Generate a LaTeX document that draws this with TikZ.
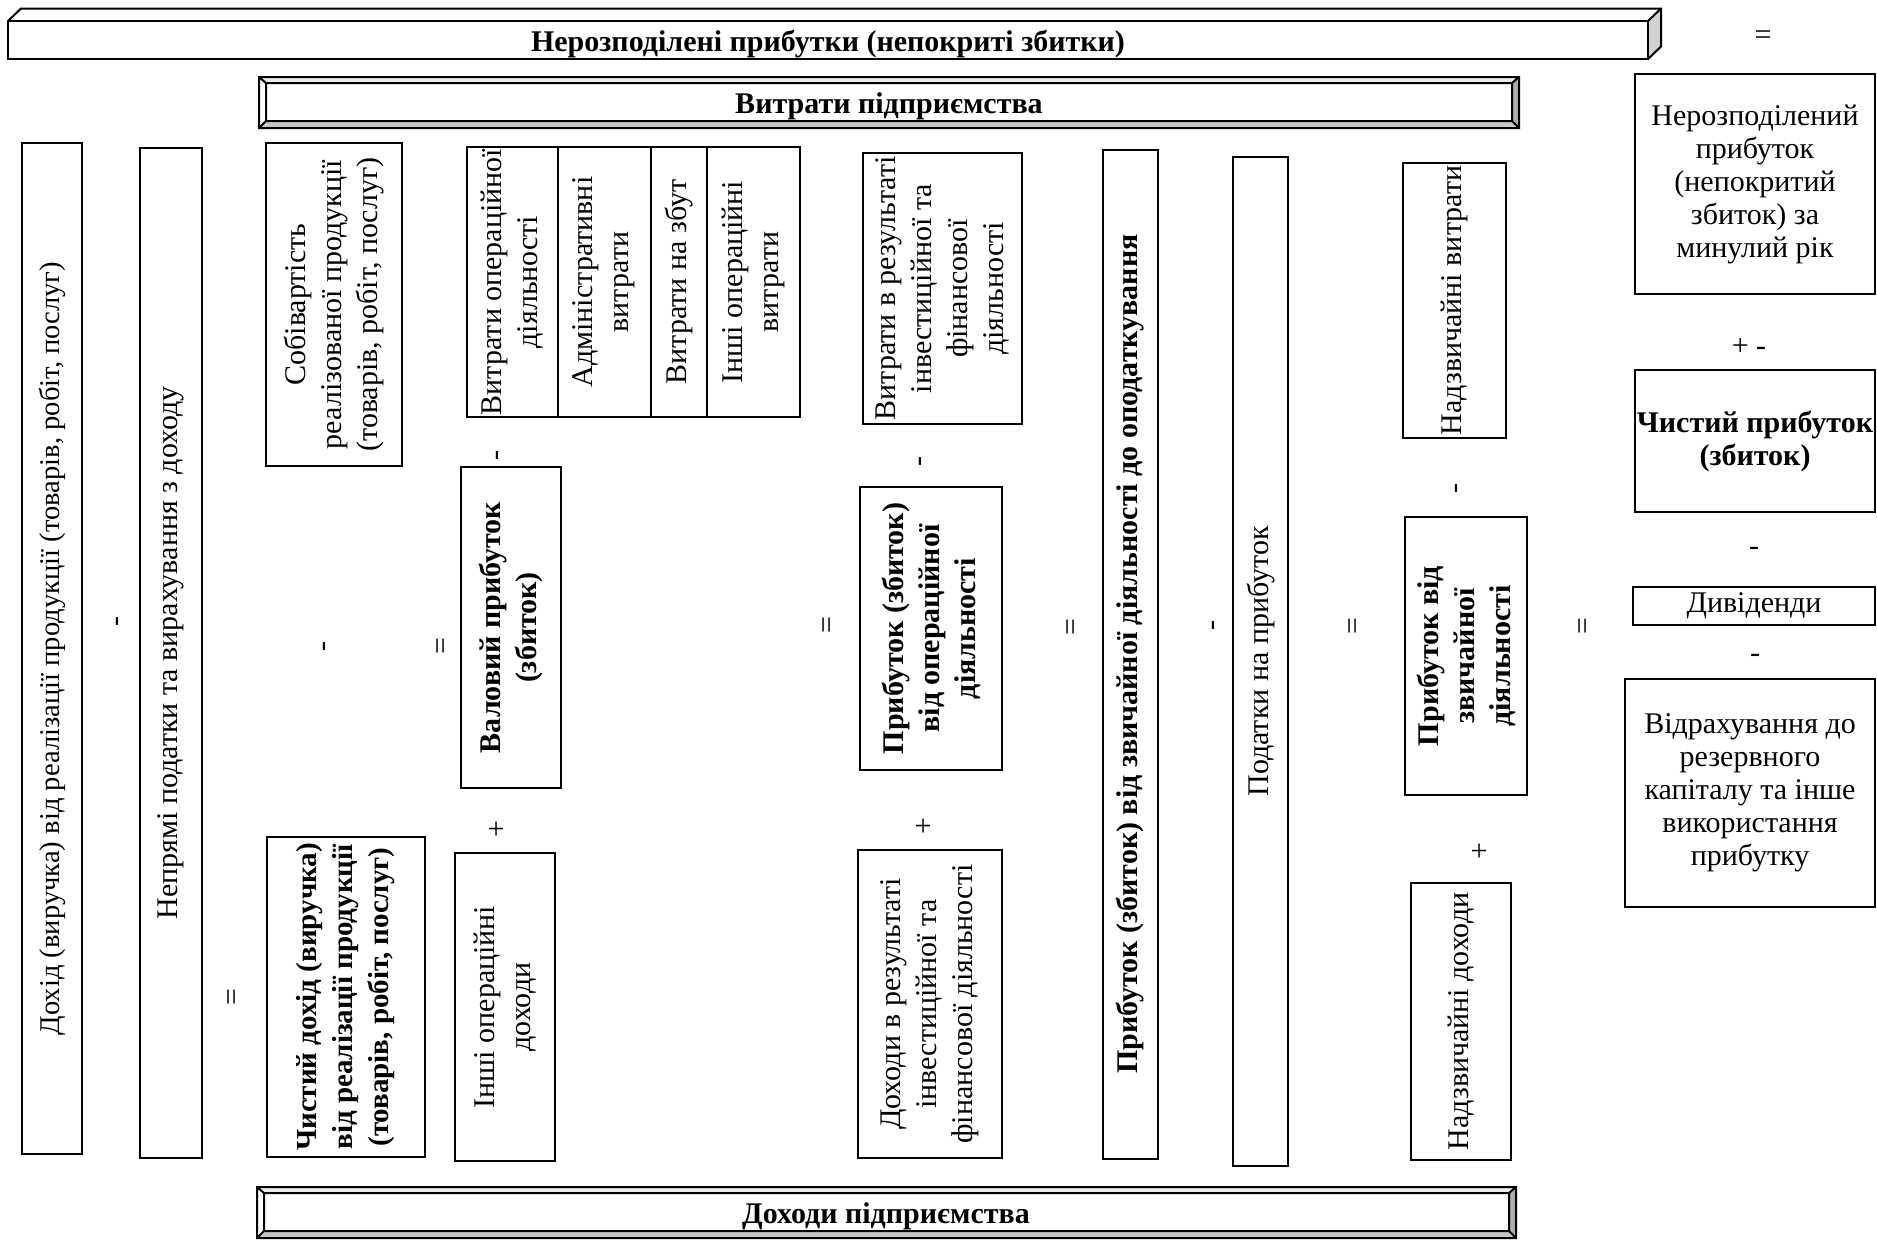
\documentclass[tikz,border=0pt]{standalone}
\usepackage{fontspec}
\setmainfont{Liberation Serif}

\begin{document}
\begin{tikzpicture}[x=0.5pt,y=-0.5pt,
  box/.style={draw, line width=1pt, inner sep=1pt, align=center,
    font=\fontsize{15}{16.5}\selectfont},
  rbox/.style={box, rotate=90, font=\fontsize{15}{18}\selectfont},
  sign/.style={inner sep=0pt, font=\fontsize{15}{18}\selectfont},
  rsign/.style={sign, rotate=90}]

\useasboundingbox (0,0) rectangle (1877,1239);

%---------------------------------------
% Banners
%---------------------------------------
% 3D bar on top
\fill[white] (8,21) -- (21,8.5) -- (1661,8.5) -- (1648,21) -- cycle;
\fill[gray!35] (1648,21) -- (1661,8.5) -- (1661,46.5) -- (1648,59) -- cycle;
\draw[line width=1pt] (8,21) -- (21,8.5) -- (1661,8.5) -- (1661,46.5) -- (1648,59)
  (1648,21) -- (1661,8.5);
\draw[line width=1pt] (8,21) rectangle (1648,59);
\node[sign, font=\fontsize{15}{18}\selectfont\bfseries] (retained) at (828,44)
  {Нерозподілені прибутки (непокриті збитки)};

% bevelled frames (top: costs, bottom: income)
\foreach \xa/\ya/\xb/\yb in {259/77/1519/128, 257/1187/1516/1238}{
  \fill[gray!15] (\xa,\ya) -- (\xb,\ya) -- (\xb-7,\ya+6) -- (\xa+7,\ya+6) -- cycle;
  \fill[white] (\xa,\ya) -- (\xa+7,\ya+6) -- (\xa+7,\yb-7) -- (\xa,\yb) -- cycle;
  \fill[gray!45] (\xa,\yb) -- (\xa+7,\yb-7) -- (\xb-7,\yb-7) -- (\xb,\yb) -- cycle;
  \fill[gray!65] (\xb,\ya) -- (\xb-7,\ya+6) -- (\xb-7,\yb-7) -- (\xb,\yb) -- cycle;
  \draw[line width=1pt] (\xa,\ya) rectangle (\xb,\yb)
    (\xa+7,\ya+6) rectangle (\xb-7,\yb-7)
    (\xa,\ya) -- (\xa+7,\ya+6) (\xb,\ya) -- (\xb-7,\ya+6)
    (\xa,\yb) -- (\xa+7,\yb-7) (\xb,\yb) -- (\xb-7,\yb-7);
}
\node[sign, font=\fontsize{15}{18}\selectfont\bfseries] (costs) at (889,106)
  {Витрати підприємства};
\node[sign, font=\fontsize{15}{18}\selectfont\bfseries] (income) at (886,1216)
  {Доходи підприємства};

%---------------------------------------
% Vertical columns
%---------------------------------------
\node[rbox, minimum width=505.5pt, minimum height=30pt, font=\fontsize{14.3}{18}\selectfont]
  (revenue) at (52,648.5)
  {Дохід (виручка) від реалізації продукції (товарів, робіт, послуг)};
\node[rbox, minimum width=505pt, minimum height=31pt] (indtax) at (171,653)
  {Непрямі податки та вирахування з доходу};

\node[rbox, minimum width=161.5pt, minimum height=68pt] (cogs) at (334,304.5)
  {Собівартість\\реалізованої продукції\\(товарів, робіт, послуг)};
\node[rbox, minimum width=160pt, minimum height=79pt, font=\fontsize{14.5}{18}\selectfont\bfseries]
  (netrev) at (346,997)
  {Чистий дохід (виручка)\\від реалізації продукції\\(товарів, робіт, послуг)};

% operating costs table
\node[rbox, minimum width=135pt, minimum height=45.5pt] (opcost) at (512.5,282)
  {Витрати операційної\\діяльності};
\node[rbox, minimum width=135pt, minimum height=46.25pt] (admcost) at (604.25,282)
  {Адміністративні\\витрати};
\node[rbox, minimum width=135pt, minimum height=28.25pt] (salecost) at (678.75,282)
  {Витрати на збут};
\node[rbox, minimum width=135pt, minimum height=46.5pt] (othcost) at (753.5,282)
  {Інші операційні\\витрати};

\node[rbox, minimum width=160.5pt, minimum height=50pt, font=\fontsize{15}{18}\selectfont\bfseries]
  (gross) at (511,627.5) {Валовий прибуток\\(збиток)};
\node[rbox, minimum width=154pt, minimum height=50pt] (othinc) at (505,1007)
  {Інші операційні\\доходи};

\node[rbox, minimum width=135.5pt, minimum height=79.5pt] (invcost) at (942.5,288.5)
  {Витрати в результаті\\інвестиційної та\\фінансової\\діяльності};
\node[rbox, minimum width=141.5pt, minimum height=71.25pt, font=\fontsize{15}{18}\selectfont\bfseries]
  (opprof) at (931,628.5) {Прибуток (збиток)\\від операційної\\діяльності};
\node[rbox, minimum width=153.75pt, minimum height=72pt] (invinc) at (930,1004)
  {Доходи в результаті\\інвестиційної та\\фінансової діяльності};

\node[rbox, minimum width=504.5pt, minimum height=27.5pt, font=\fontsize{15}{18}\selectfont\bfseries]
  (pretax) at (1130,654) {Прибуток (збиток) від звичайної діяльності до оподаткування};
\node[rbox, minimum width=504.5pt, minimum height=27.5pt] (profittax) at (1260.5,661.5)
  {Податки на прибуток};

\node[rbox, minimum width=137.5pt, minimum height=51.5pt] (extcost) at (1454.5,300.5)
  {Надзвичайні витрати};
\node[rbox, minimum width=139pt, minimum height=61pt, font=\fontsize{15}{18}\selectfont\bfseries]
  (ordprof) at (1466,656) {Прибуток від\\звичайної\\діяльності};
\node[rbox, minimum width=138.5pt, minimum height=50pt] (extinc) at (1461,1021.5)
  {Надзвичайні доходи};

%---------------------------------------
% Right column
%---------------------------------------
\node[box, minimum width=120pt, minimum height=110pt] (prevprof) at (1755,184)
  {Нерозподілений\\прибуток\\(непокритий\\збиток) за\\минулий рік};
\node[box, minimum width=120pt, minimum height=71pt, font=\fontsize{15}{16.5}\selectfont\bfseries]
  (netprof) at (1755,441) {Чистий прибуток\\(збиток)};
\node[box, minimum width=121pt, minimum height=19.25pt] (divid) at (1754,606) {Дивіденди};
\node[box, minimum width=124.75pt, minimum height=114pt] (reserve) at (1750,793)
  {Відрахування до\\резервного\\капіталу та інше\\використання\\прибутку};

%---------------------------------------
% Signs
%---------------------------------------
\node[sign] (eqtop) at (1763,38) {=};
\node[sign] (pmright) at (1749,347) {+ -};
\node[sign] (minusdiv) at (1754,551) {-};
\node[sign] (minusres) at (1755,658) {-};

\node[rsign] (minusa) at (120,621) {-};
\node[rsign] (eqa) at (235,997) {=};
\node[rsign] (minusb) at (327,646) {-};
\node[rsign] (eqb) at (444,646) {=};
\node[rsign] (minusc) at (500,455) {-};
\node[rsign] (plusc) at (498,829.5) {+};
\node[rsign] (eqc) at (829.5,625) {=};
\node[rsign] (minusd) at (923,461) {-};
\node[rsign] (plusd) at (925,826) {+};
\node[rsign] (eqd) at (1074,627) {=};
\node[rsign] (minuse) at (1216,625) {-};
\node[rsign] (eqe) at (1356,626) {=};
\node[rsign] (minusf) at (1459,488) {-};
\node[rsign] (plusf) at (1481,851) {+};
\node[rsign] (eqf) at (1586,626) {=};

\end{tikzpicture}
\end{document}
